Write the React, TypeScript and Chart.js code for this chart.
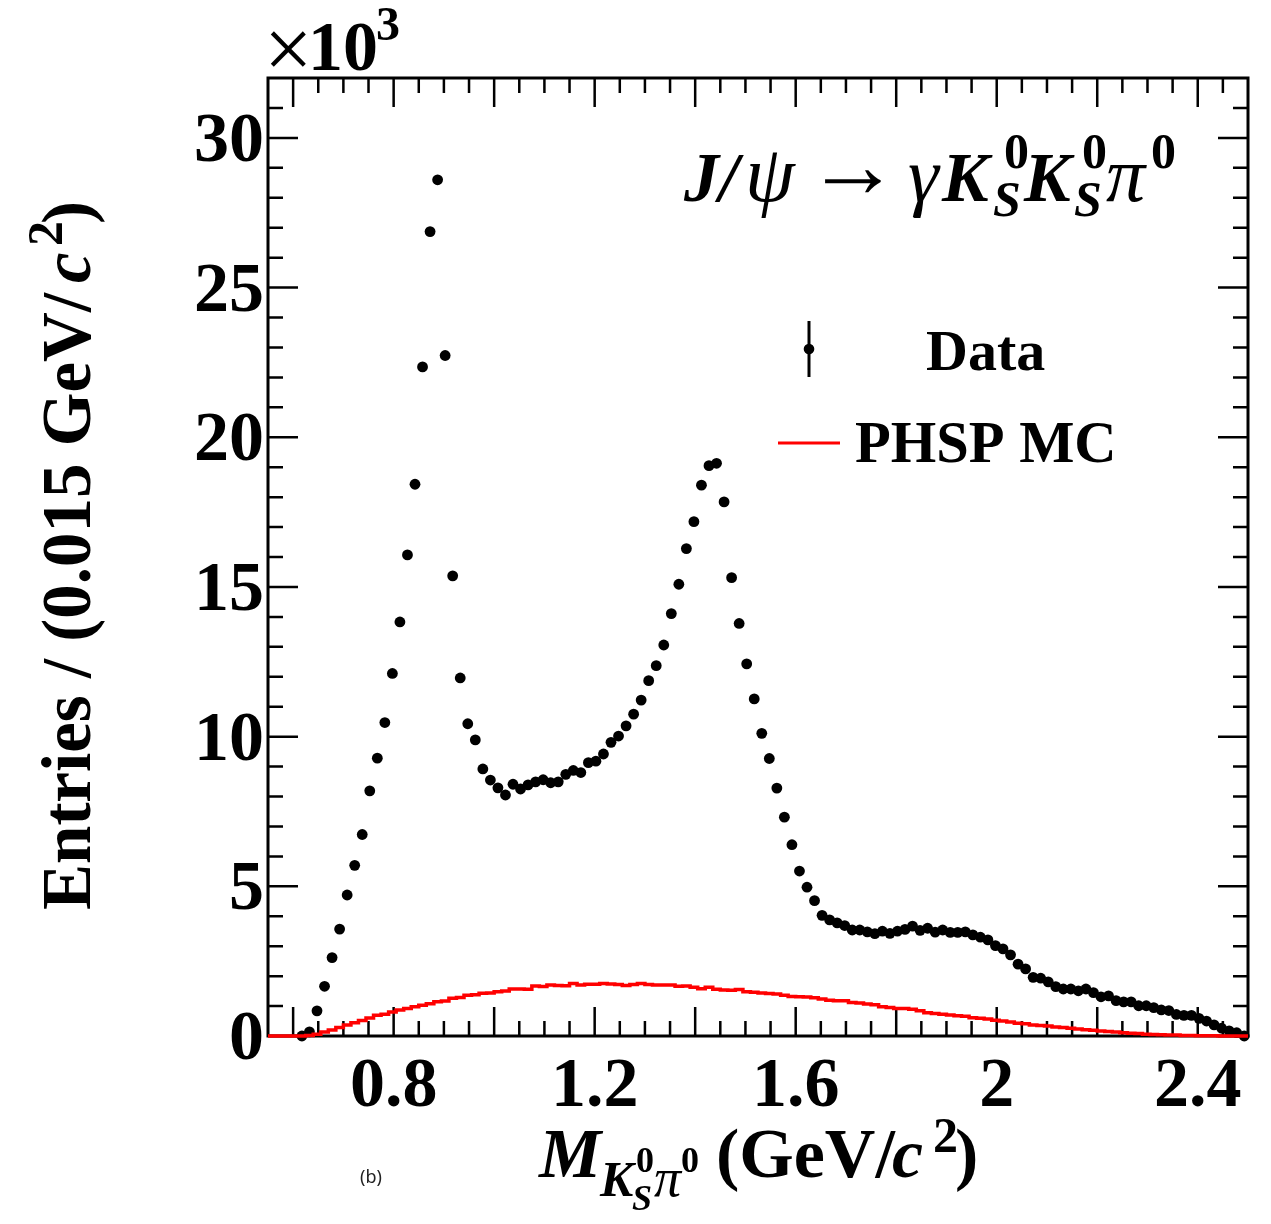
import { useEffect, useRef } from 'react';
import { Chart, registerables } from 'chart.js';

Chart.register(...registerables);

// bin centres of the 0.015 GeV/c^2 histogram
const massBins = [
  0.5575, 0.5725, 0.5875, 0.6025, 0.6175, 0.6325, 0.6475, 0.6625, 0.6775, 0.6925,
  0.7075, 0.7225, 0.7375, 0.7525, 0.7675, 0.7825, 0.7975, 0.8125, 0.8275, 0.8425,
  0.8575, 0.8725, 0.8875, 0.9025, 0.9175, 0.9325, 0.9475, 0.9625, 0.9775, 0.9925,
  1.0075, 1.0225, 1.0375, 1.0525, 1.0675, 1.0825, 1.0975, 1.1125, 1.1275, 1.1425,
  1.1575, 1.1725, 1.1875, 1.2025, 1.2175, 1.2325, 1.2475, 1.2625, 1.2775, 1.2925,
  1.3075, 1.3225, 1.3375, 1.3525, 1.3675, 1.3825, 1.3975, 1.4125, 1.4275, 1.4425,
  1.4575, 1.4725, 1.4875, 1.5025, 1.5175, 1.5325, 1.5475, 1.5625, 1.5775, 1.5925,
  1.6075, 1.6225, 1.6375, 1.6525, 1.6675, 1.6825, 1.6975, 1.7125, 1.7275, 1.7425,
  1.7575, 1.7725, 1.7875, 1.8025, 1.8175, 1.8325, 1.8475, 1.8625, 1.8775, 1.8925,
  1.9075, 1.9225, 1.9375, 1.9525, 1.9675, 1.9825, 1.9975, 2.0125, 2.0275, 2.0425,
  2.0575, 2.0725, 2.0875, 2.1025, 2.1175, 2.1325, 2.1475, 2.1625, 2.1775, 2.1925,
  2.2075, 2.2225, 2.2375, 2.2525, 2.2675, 2.2825, 2.2975, 2.3125, 2.3275, 2.3425,
  2.3575, 2.3725, 2.3875, 2.4025, 2.4175, 2.4325, 2.4475, 2.4625, 2.4775, 2.4925,
];

const dataEntries = [
  null, null, null, null, 0, 0.14, 0.84, 1.66, 2.62, 3.57,
  4.71, 5.7, 6.73, 8.19, 9.28, 10.47, 12.11, 13.83, 16.07, 18.43,
  22.35, 26.87, 28.6, 22.73, 15.37, 11.96, 10.43, 9.89, 8.92, 8.55,
  8.29, 8.05, 8.41, 8.25, 8.39, 8.49, 8.56, 8.46, 8.49, 8.74,
  8.87, 8.8, 9.13, 9.18, 9.42, 9.81, 10.02, 10.36, 10.75, 11.22,
  11.87, 12.37, 13.06, 14.11, 15.09, 16.28, 17.18, 18.4, 19.05, 19.13,
  17.84, 15.31, 13.78, 12.43, 11.26, 10.11, 9.27, 8.28, 7.31, 6.39,
  5.51, 4.97, 4.52, 4.03, 3.88, 3.78, 3.69, 3.54, 3.54, 3.48,
  3.42, 3.5, 3.43, 3.5, 3.56, 3.67, 3.53, 3.6, 3.47, 3.54,
  3.46, 3.46, 3.48, 3.38, 3.3, 3.21, 3.02, 2.91, 2.71, 2.4,
  2.24, 1.96, 1.93, 1.81, 1.65, 1.57, 1.57, 1.51, 1.57, 1.45,
  1.31, 1.34, 1.18, 1.14, 1.14, 1.01, 1.01, 0.95, 0.87, 0.85,
  0.72, 0.69, 0.69, 0.59, 0.5, 0.37, 0.26, 0.17, 0.11, 0,
];

const phspEntries = [
  0, 0, 0, 0, 0, 0.02, 0.06, 0.13, 0.2, 0.28,
  0.37, 0.44, 0.52, 0.6, 0.69, 0.73, 0.8, 0.87, 0.92, 0.98,
  1.03, 1.08, 1.14, 1.17, 1.26, 1.29, 1.36, 1.38, 1.43, 1.44,
  1.48, 1.5, 1.57, 1.57, 1.56, 1.67, 1.65, 1.7, 1.69, 1.68,
  1.75, 1.7, 1.73, 1.73, 1.75, 1.74, 1.72, 1.69, 1.72, 1.75,
  1.72, 1.7, 1.7, 1.7, 1.66, 1.67, 1.63, 1.58, 1.63, 1.56,
  1.54, 1.53, 1.55, 1.48, 1.46, 1.44, 1.42, 1.4, 1.36, 1.32,
  1.31, 1.3, 1.28, 1.24, 1.19, 1.18, 1.18, 1.12, 1.1, 1.07,
  1.04, 0.98, 0.95, 0.92, 0.92, 0.89, 0.84, 0.78, 0.75, 0.73,
  0.7, 0.68, 0.66, 0.61, 0.59, 0.57, 0.53, 0.5, 0.47, 0.43,
  0.41, 0.37, 0.35, 0.33, 0.3, 0.28, 0.26, 0.23, 0.21, 0.19,
  0.17, 0.15, 0.13, 0.11, 0.09, 0.08, 0.06, 0.05, 0.04, 0.03,
  0.03, 0.02, 0.02, 0.01, 0.01, 0.01, 0, 0, 0, 0,
];

const xLabelTicks = [0.8, 1.2, 1.6, 2, 2.4];
const xMajorTicks = [0.6, 0.8, 1, 1.2, 1.4, 1.6, 1.8, 2, 2.2, 2.4];
const xMinorTicks = [
  0.65, 0.7, 0.75, 0.85, 0.9, 0.95, 1.05, 1.1, 1.15, 1.25, 1.3, 1.35, 1.45, 1.5, 1.55,
  1.65, 1.7, 1.75, 1.85, 1.9, 1.95, 2.05, 2.1, 2.15, 2.25, 2.3, 2.35, 2.45,
];
const yMajorTicks = [0, 5, 10, 15, 20, 25, 30];
const yMinorTicks = [
  1, 2, 3, 4, 6, 7, 8, 9, 11, 12, 13, 14, 16, 17, 18, 19, 21, 22, 23, 24, 26, 27, 28, 29, 31,
];

const serif = '"Liberation Serif"';
const plain = (size: number) => `${size}px ${serif}`;
const italic = (size: number) => `italic ${size}px ${serif}`;
const bold = (size: number) => `bold ${size}px ${serif}`;
const boldItalic = (size: number) => `italic bold ${size}px ${serif}`;

type Label = { text: string; font: string; x: number; y: number };

const plotLabels: Label[] = [
  // exponent
  { text: '\u00d7', font: plain(86), x: 264, y: 78 },
  { text: '10', font: bold(70), x: 308, y: 70 },
  { text: '3', font: bold(48), x: 376, y: 40 },
  // decay
  { text: 'J/', font: boldItalic(70), x: 684, y: 201 },
  { text: '\u03c8', font: italic(80), x: 745, y: 201 },
  { text: '\u2192', font: plain(94), x: 806, y: 197 },
  { text: '\u03b3', font: italic(78), x: 908, y: 201 },
  { text: 'K', font: boldItalic(70), x: 942, y: 201 },
  { text: '0', font: bold(50), x: 1004, y: 168 },
  { text: 'S', font: boldItalic(50), x: 993, y: 216 },
  { text: 'K', font: boldItalic(70), x: 1024, y: 201 },
  { text: '0', font: bold(50), x: 1082, y: 168 },
  { text: 'S', font: boldItalic(50), x: 1074, y: 216 },
  { text: '\u03c0', font: italic(78), x: 1106, y: 201 },
  { text: '0', font: bold(50), x: 1151, y: 168 },
  // legend
  { text: 'Data', font: bold(58), x: 926, y: 370 },
  { text: 'PHSP MC', font: bold(58.5), x: 855, y: 462 },
  // x title
  { text: 'M', font: boldItalic(70), x: 539, y: 1177 },
  { text: 'K', font: boldItalic(50), x: 600, y: 1196 },
  { text: '0', font: bold(36), x: 636, y: 1172 },
  { text: 'S', font: boldItalic(36), x: 632, y: 1210 },
  { text: '\u03c0', font: italic(54), x: 654, y: 1196 },
  { text: '0', font: bold(36), x: 681, y: 1172 },
  { text: '(GeV/', font: bold(70), x: 716, y: 1177 },
  { text: 'c', font: boldItalic(70), x: 892, y: 1177 },
  { text: '2', font: bold(50), x: 933, y: 1152 },
  { text: ')', font: bold(70), x: 955, y: 1177 },
  // panel tag
  { text: '(b)', font: `18px "Noto Sans"`, x: 360, y: 1183 },
];

// y title, x here runs along the rotated text starting from the bottom of the page
const yTitleLabels: Label[] = [
  { text: 'Entries / (0.015 GeV/', font: bold(69), x: 0, y: 0 },
  { text: 'c', font: boldItalic(69), x: 627, y: 0 },
  { text: '2', font: bold(50), x: 664, y: -28 },
  { text: ')', font: bold(69), x: 686, y: 0 },
];

const frameAndText = {
  id: 'frameAndText',
  // frame and ticks go under the datasets, the red histogram runs over the bottom axis
  beforeDatasetsDraw(chart: Chart) {
    const { ctx, chartArea: area } = chart;
    const x = chart.scales.x;
    const y = chart.scales.y;
    ctx.save();
    ctx.strokeStyle = '#000';
    ctx.lineWidth = 2.5;
    const xTick = (value: number, len: number) => {
      const px = x.getPixelForValue(value);
      ctx.beginPath();
      ctx.moveTo(px, area.bottom);
      ctx.lineTo(px, area.bottom - len);
      ctx.moveTo(px, area.top);
      ctx.lineTo(px, area.top + len);
      ctx.stroke();
    };
    const yTick = (value: number, len: number) => {
      const py = y.getPixelForValue(value);
      ctx.beginPath();
      ctx.moveTo(area.left, py);
      ctx.lineTo(area.left + len, py);
      ctx.moveTo(area.right, py);
      ctx.lineTo(area.right - len, py);
      ctx.stroke();
    };
    xMajorTicks.forEach((v) => xTick(v, 29));
    xMinorTicks.forEach((v) => xTick(v, 15));
    yMajorTicks.forEach((v) => yTick(v, 30));
    yMinorTicks.forEach((v) => yTick(v, 15));
    ctx.lineWidth = 3;
    ctx.strokeRect(area.left, area.top, area.right - area.left, area.bottom - area.top);
    ctx.restore();
  },
  afterDraw(chart: Chart) {
    const { ctx } = chart;
    ctx.save();
    ctx.textAlign = 'left';
    ctx.textBaseline = 'alphabetic';
    plotLabels.forEach((l) => {
      ctx.font = l.font;
      ctx.fillStyle = l.text === '(b)' ? '#222' : '#000';
      ctx.fillText(l.text, l.x, l.y);
    });
    ctx.fillStyle = '#000';
    ctx.translate(90, 910);
    ctx.rotate(-Math.PI / 2);
    yTitleLabels.forEach((l) => {
      ctx.font = l.font;
      ctx.fillText(l.text, l.x, l.y);
    });
    ctx.restore();

    // legend keys
    ctx.save();
    ctx.strokeStyle = '#000';
    ctx.lineWidth = 3;
    ctx.beginPath();
    ctx.moveTo(809, 321);
    ctx.lineTo(809, 377);
    ctx.stroke();
    ctx.fillStyle = '#000';
    ctx.beginPath();
    ctx.arc(809, 349, 5.3, 0, Math.PI * 2);
    ctx.fill();
    ctx.strokeStyle = '#ff0000';
    ctx.beginPath();
    ctx.moveTo(778, 443);
    ctx.lineTo(840, 443);
    ctx.stroke();
    ctx.restore();
  },
};

export default function App() {
  const canvasRef = useRef<HTMLCanvasElement>(null);

  useEffect(() => {
    if (!canvasRef.current) return;

    const dataPoints = massBins.map((x, i) => ({ x, y: dataEntries[i] }));
    const phspPoints = [
      { x: 0.55, y: phspEntries[0] },
      ...massBins.map((x, i) => ({ x, y: phspEntries[i] })),
      { x: 2.5, y: phspEntries[phspEntries.length - 1] },
    ];

    const chart = new Chart(canvasRef.current, {
      type: 'scatter',
      data: {
        datasets: [
          {
            label: 'Data',
            data: dataPoints,
            order: 2,
            showLine: false,
            pointRadius: 5.4,
            pointBackgroundColor: '#000',
            pointBorderWidth: 0,
            clip: false,
          },
          {
            type: 'line',
            label: 'PHSP MC',
            data: phspPoints,
            order: 1,
            stepped: 'middle',
            borderColor: '#ff0000',
            borderWidth: 3.5,
            pointRadius: 0,
            clip: false,
          },
        ],
      },
      options: {
        responsive: false,
        animation: false,
        devicePixelRatio: 1,
        layout: { padding: { left: 0, top: 78, right: 23, bottom: 0 } },
        plugins: {
          legend: { display: false },
          tooltip: { enabled: false },
        },
        scales: {
          x: {
            type: 'linear',
            min: 0.55,
            max: 2.5,
            grid: { display: false, drawTicks: false },
            border: { display: false },
            afterBuildTicks: (scale: any) => {
              scale.ticks = xLabelTicks.map((value) => ({ value }));
            },
            afterFit: (scale: any) => {
              scale.height = 188;
            },
            ticks: {
              autoSkip: false,
              maxRotation: 0,
              padding: 10,
              color: '#000',
              font: { family: 'Liberation Serif', weight: 'bold', size: 70 },
              callback: (value: any) => String(value),
            },
          },
          y: {
            type: 'linear',
            min: 0,
            max: 32,
            grid: { display: false, drawTicks: false },
            border: { display: false },
            afterBuildTicks: (scale: any) => {
              scale.ticks = yMajorTicks.map((value) => ({ value }));
            },
            afterFit: (scale: any) => {
              scale.width = 268;
            },
            ticks: {
              autoSkip: false,
              padding: 4,
              labelOffset: 5,
              color: '#000',
              font: { family: 'Liberation Serif', weight: 'bold', size: 70 },
              callback: (value: any) => String(value),
            },
          },
        },
      },
      plugins: [frameAndText],
    });

    return () => {
      chart.destroy();
    };
  }, []);

  return (
    <div style={{ position: 'absolute', left: 0, top: 0, width: 1271, height: 1224, background: '#fff' }}>
      <canvas ref={canvasRef} width={1271} height={1224} style={{ display: 'block' }} />
    </div>
  );
}
